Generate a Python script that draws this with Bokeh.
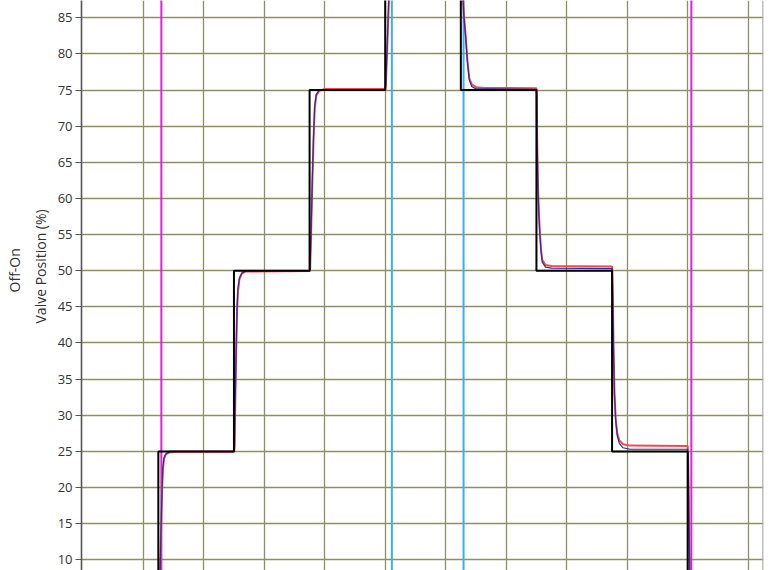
from bokeh.plotting import figure
from bokeh.models import Range1d, FixedTicker, Span, Title
from bokeh.embed import file_html
from bokeh.resources import INLINE

# setpoint steps (time, %)
setpoint_t = [0, 12.5, 25, 37.5, 50, 62.5, 75, 87.5, 100, 115]
setpoint_v = [0, 25, 50, 75, 100, 75, 50, 25, 0, 0]

# off-on signals (0 = off, 1 = on)
onoff_t = [0, 13.0, 100.6, 115]
onoff_v = [0, 1, 0, 0]
hold_t = [0, 51.1, 62.95, 115]
hold_v = [0, 1, 0, 0]

# measured valve position, red trace
red_t = [0, 12.55, 12.75, 12.95, 13.1, 13.25, 13.45, 13.75, 14.3, 15.5, 25.0,
         25.1, 25.2, 25.35, 25.5, 25.65, 25.9, 26.3, 27.0, 37.55,
         37.6, 37.75, 37.95, 38.15, 38.35, 38.6, 39.1, 40.0, 50.0,
         50.1, 50.3, 50.55, 50.8, 51.1, 51.6, 52.5, 62.5,
         62.6, 62.7, 62.8, 63.0, 63.3, 63.6, 63.9, 64.3, 65.0, 66.5, 75.0,
         75.05, 75.12, 75.25, 75.4, 75.55, 75.75, 75.95, 76.5, 77.5, 87.5,
         87.55, 87.65, 87.75, 87.9, 88.1, 88.35, 88.7, 89.3, 90.5, 100.0,
         100.1, 100.2, 100.35, 100.5, 101.0, 115]
red_v = [0.3, 0.3, 6, 14, 19, 22.5, 24, 24.6, 24.85, 24.95, 24.95,
         25.5, 31, 38, 44, 47, 48.8, 49.6, 49.9, 49.95,
         50.5, 55, 62, 68, 72.5, 74.2, 74.9, 75.15, 75.15,
         75.5, 80, 86, 92, 96.5, 99, 99.8, 100,
         99, 94, 89, 85.5, 82.5, 79, 76.6, 75.8, 75.4, 75.3, 75.25,
         74, 68, 62, 58, 55.5, 53, 51.5, 50.8, 50.65, 50.6,
         49.5, 45, 39, 33, 29.5, 27.5, 26.5, 26, 25.8, 25.75,
         23, 16, 8, 2, 0.3, 0.3]

# measured valve position, blue trace (mostly hidden under red/black)
blue_t = [0, 12.55, 12.75, 12.95, 13.1, 13.25, 13.45, 13.8, 14.5, 25.0,
          25.1, 25.2, 25.35, 25.5, 25.65, 25.9, 26.3, 27.0, 37.55,
          37.6, 37.75, 37.95, 38.15, 38.35, 38.6, 39.1, 50.0,
          50.1, 50.3, 50.55, 50.8, 51.1, 51.6, 52.5, 62.5,
          62.6, 62.7, 62.8, 63.0, 63.3, 63.6, 63.9, 64.3, 65.0, 75.0,
          75.05, 75.12, 75.25, 75.4, 75.55, 75.75, 75.95, 76.5, 77.5, 87.5,
          87.55, 87.65, 87.75, 87.9, 88.1, 88.35, 88.7, 89.3, 90.5, 100.0,
          100.1, 100.2, 100.35, 100.5, 101.0, 115]
blue_v = [0, 0, 6.5, 14.5, 19.5, 22.8, 24.2, 24.7, 25, 25,
          25.8, 31.5, 38.5, 44.5, 47.5, 49, 49.7, 50, 50,
          50.8, 55.5, 62.5, 68.5, 72.8, 74.4, 75, 75,
          75.8, 80.5, 86.5, 92.5, 96.8, 99.2, 100, 100,
          99, 93.8, 88.8, 85.3, 82.3, 78.8, 76.4, 75.5, 75.15, 75.1,
          74, 67.8, 61.8, 57.8, 55.3, 52.8, 51.2, 50.5, 50.35, 50.3,
          49.5, 44.8, 38.8, 32.8, 29.3, 27.2, 26.1, 25.5, 25.3, 25.3,
          23, 16, 8, 2, 0, 0]

y_ticks = [10, 15, 20, 25, 30, 35, 40, 45, 50, 55, 60, 65, 70, 75, 80, 85]
x_grid = [10, 20, 30, 40, 50, 60, 70, 80, 90, 100, 110]

FONT = "Open Sans"
GRID = "#8e8e68"
TEXT = "#333333"

p = figure(width=780, height=570, output_backend="svg", toolbar_location=None,
           x_range=Range1d(-0.2, 112.53), y_range=Range1d(8.52, 87.39),
           x_axis_location=None,
           min_border_left=81, min_border_right=17, min_border_top=0, min_border_bottom=0)
p.outline_line_color = None
p.background_fill_color = "white"
p.border_fill_color = "white"

p.xgrid.ticker = FixedTicker(ticks=x_grid)
p.ygrid.ticker = FixedTicker(ticks=y_ticks)
for g in (p.xgrid, p.ygrid):
    g.grid_line_color = GRID
    g.grid_line_width = 1.3

ax = p.yaxis[0]
ax.ticker = FixedTicker(ticks=y_ticks)
ax.minor_tick_line_color = None
ax.major_tick_in = 0
ax.major_tick_out = 6
ax.major_tick_line_color = "#555555"
ax.axis_line_color = "#555555"
ax.axis_line_width = 1.6
ax.major_label_text_font = FONT
ax.major_label_text_font_size = "13px"
ax.major_label_text_color = TEXT
ax.major_label_standoff = 3

p.add_layout(Title(text="Valve Position (%)", align="left", offset=247, standoff=10,
                   text_font=FONT, text_font_size="14px", text_font_style="normal",
                   text_color=TEXT), "left")
p.add_layout(Title(text="Off-On", align="left", offset=278, standoff=0,
                   text_font=FONT, text_font_size="14px", text_font_style="normal",
                   text_color=TEXT), "left")

# right border of the plot area
p.add_layout(Span(location=112.45, dimension="height", line_color="#a8a8a8", line_width=1.5))

p.extra_y_ranges = {"onoff": Range1d(0.3, 0.7)}
p.step(onoff_t, onoff_v, mode="after", y_range_name="onoff", line_color="#e020e0", line_width=2)
p.step(hold_t, hold_v, mode="after", y_range_name="onoff", line_color="#3aaef0", line_width=2)

p.line(red_t, red_v, line_color="#f04a50", line_width=2)
p.line(blue_t, blue_v, line_color="#2b2f9e", line_width=1.2)
p.step(setpoint_t, setpoint_v, mode="after", line_color="black", line_width=2)

open("out.html", "w").write(file_html(p, INLINE))
